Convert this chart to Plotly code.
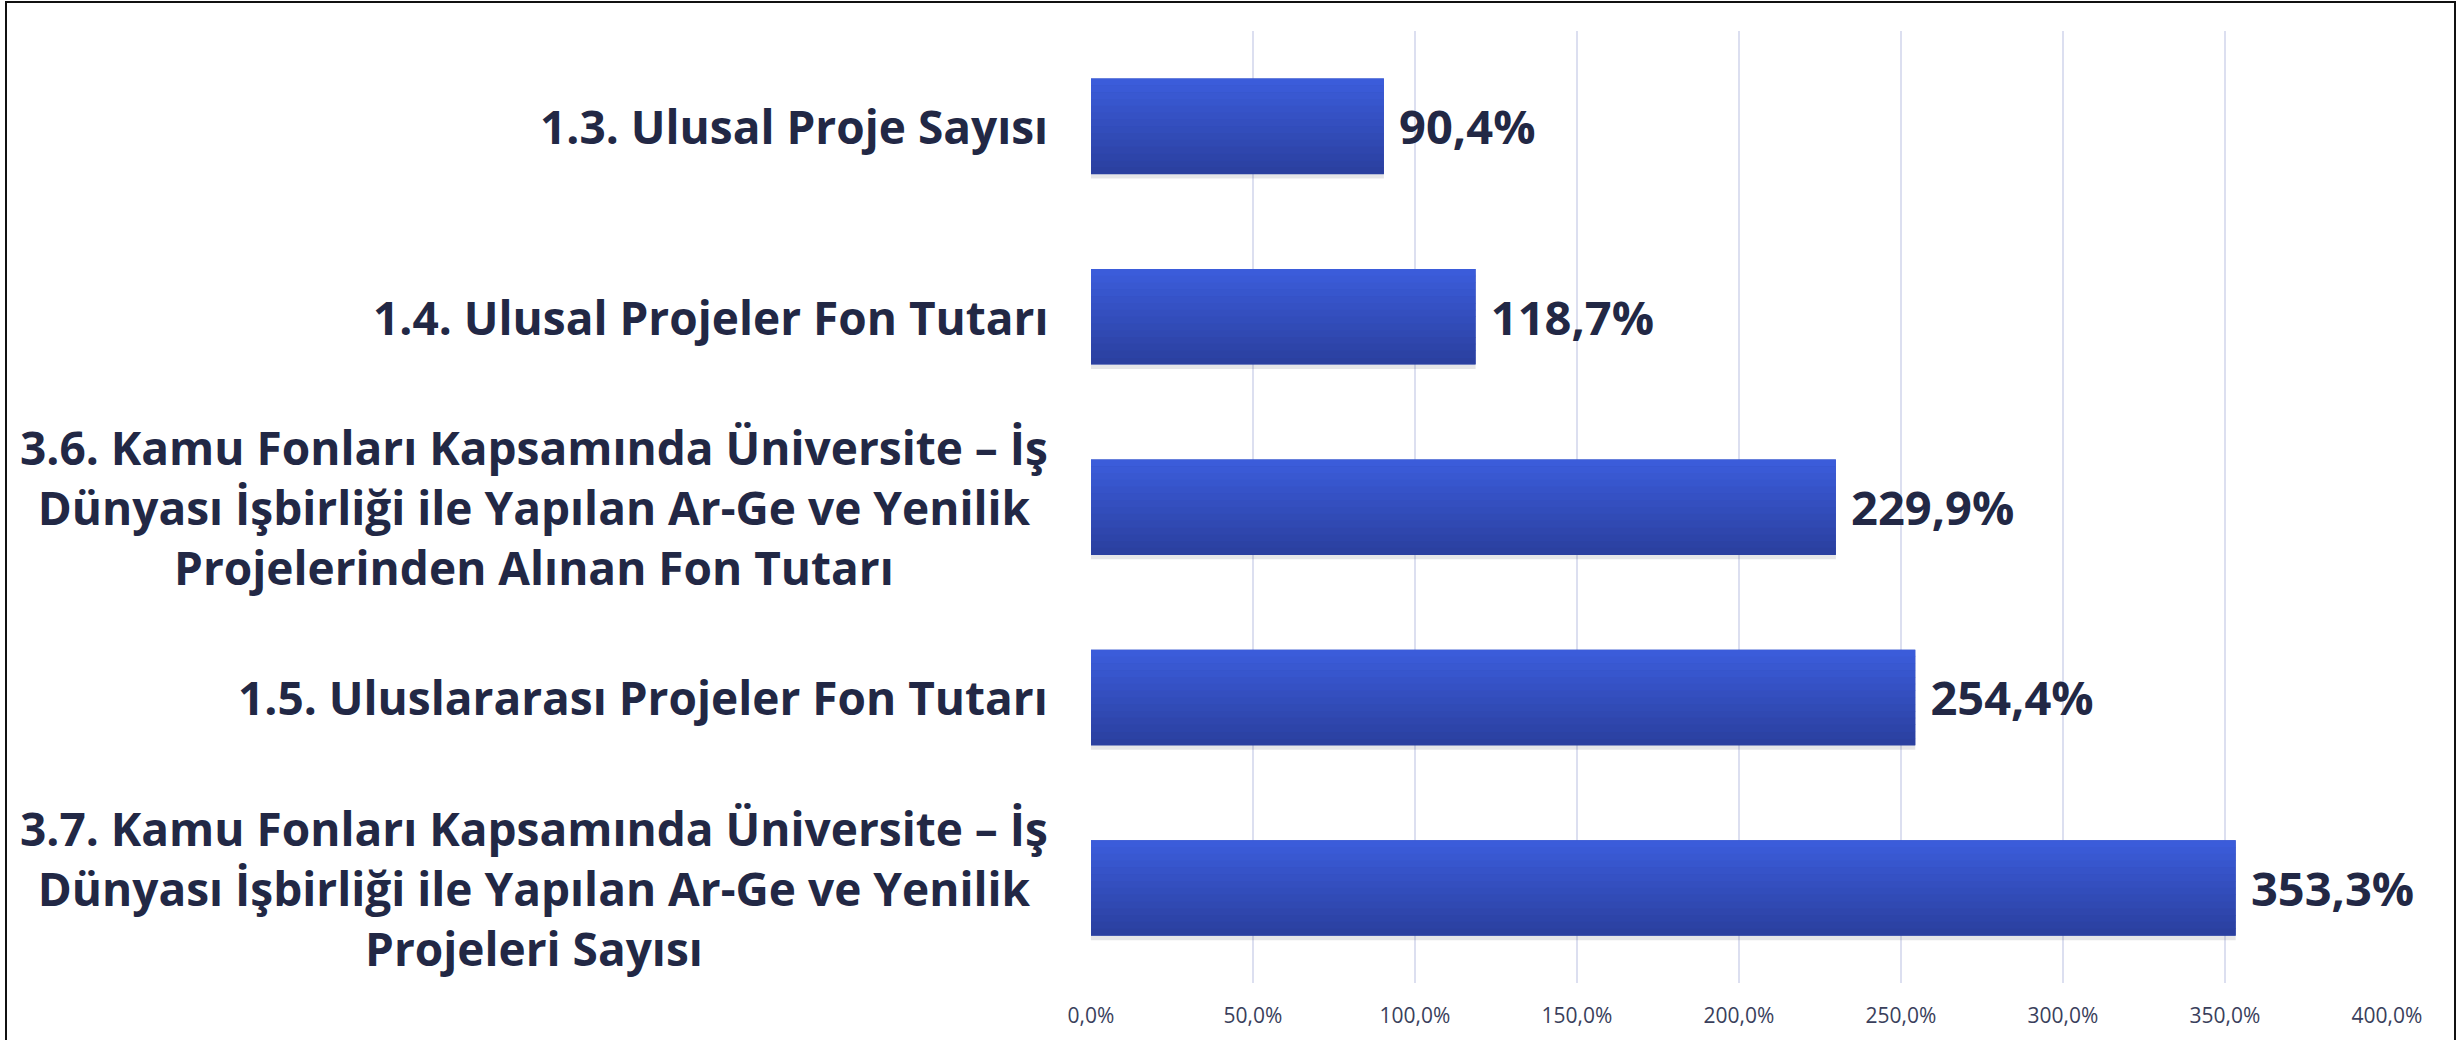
import plotly.graph_objects as go

categories = [
    "1.3. Ulusal Proje Sayısı",
    "1.4. Ulusal Projeler Fon Tutarı",
    "3.6. Kamu Fonları Kapsamında Üniversite – İş<br>Dünyası İşbirliği ile Yapılan Ar-Ge ve Yenilik<br>Projelerinden Alınan Fon Tutarı",
    "1.5. Uluslararası Projeler Fon Tutarı",
    "3.7. Kamu Fonları Kapsamında Üniversite – İş<br>Dünyası İşbirliği ile Yapılan Ar-Ge ve Yenilik<br>Projeleri Sayısı",
]
values = [90.4, 118.7, 229.9, 254.4, 353.3]
value_labels = ["90,4%", "118,7%", "229,9%", "254,4%", "353,3%"]
tick_vals = [0, 50, 100, 150, 200, 250, 300, 350, 400]
tick_text = ["0,0%", "50,0%", "100,0%", "150,0%", "200,0%", "250,0%", "300,0%", "350,0%", "400,0%"]

W, H = 2464, 1040
ML, MR, MT, MB = 1091, 77, 31, 57
BAR_W = 0.5
TOP_C = (59, 92, 218)
BOT_C = (43, 64, 160)
TEXT_C = "#222845"
FONT = "Open Sans"

fig = go.Figure()

# soft shadow
fig.add_trace(go.Bar(
    y=categories, x=values, orientation="h",
    width=BAR_W, offset=-BAR_W / 2 + 0.025,
    marker=dict(color="rgba(60,60,80,0.13)", line=dict(width=0)),
    hoverinfo="skip", showlegend=False,
))

# main bar with labels
fig.add_trace(go.Bar(
    y=categories, x=values, orientation="h",
    width=BAR_W,
    marker=dict(color="rgb(51,78,190)", line=dict(width=0)),
    text=[" " + t for t in value_labels], textposition="outside",
    textfont=dict(family=FONT, size=47, color=TEXT_C, weight="bold"),
    constraintext="none", cliponaxis=False,
    showlegend=False,
))

# vertical gradient strips
N = 14
for i in range(N):
    f = i / (N - 1)
    c = tuple(round(TOP_C[k] + (BOT_C[k] - TOP_C[k]) * f) for k in range(3))
    fig.add_trace(go.Bar(
        y=categories, x=values, orientation="h",
        width=BAR_W / N + 0.002, offset=-BAR_W / 2 + i * BAR_W / N,
        marker=dict(color="rgb(%d,%d,%d)" % c, line=dict(width=0)),
        hoverinfo="skip", showlegend=False,
    ))

# category labels (centered multi-line)
for cat in categories:
    fig.add_annotation(
        x=0, xref="paper", xanchor="right", xshift=-41,
        y=cat, yref="y", yanchor="middle",
        text=cat, showarrow=False, align="center",
        font=dict(family=FONT, size=46, color=TEXT_C, weight="bold"),
    )

# outer frame (bottom edge lies below the visible page)
pw = W - ML - MR
ph = H - MT - MB
fig.add_shape(
    type="rect", xref="paper", yref="paper",
    x0=(6 - ML) / pw, x1=(2455 - ML) / pw,
    y0=(H - MB - 1050) / ph, y1=1 + (MT - 2) / ph,
    line=dict(color="#111111", width=2), fillcolor="rgba(0,0,0,0)", layer="above",
)

fig.update_layout(
    width=W, height=H,
    margin=dict(l=ML, r=MR, t=MT, b=MB),
    paper_bgcolor="white", plot_bgcolor="white",
    barmode="overlay",
    showlegend=False,
    xaxis=dict(
        range=[0, 400], tickvals=tick_vals, ticktext=tick_text,
        showgrid=True, gridcolor="#dcdff0", gridwidth=2,
        zeroline=False, showline=False, ticks="",
        tickfont=dict(family=FONT, size=21, color="#3a3f5c"),
        ticklabelstandoff=18,
    ),
    yaxis=dict(
        categoryorder="array", categoryarray=categories,
        range=[len(categories) - 0.5, -0.5], showticklabels=False,
        showgrid=False, zeroline=False, showline=False, ticks="",
    ),
)

fig.write_html("out.html", config={"displayModeBar": False},
               post_script="document.body.style.margin='0';")
